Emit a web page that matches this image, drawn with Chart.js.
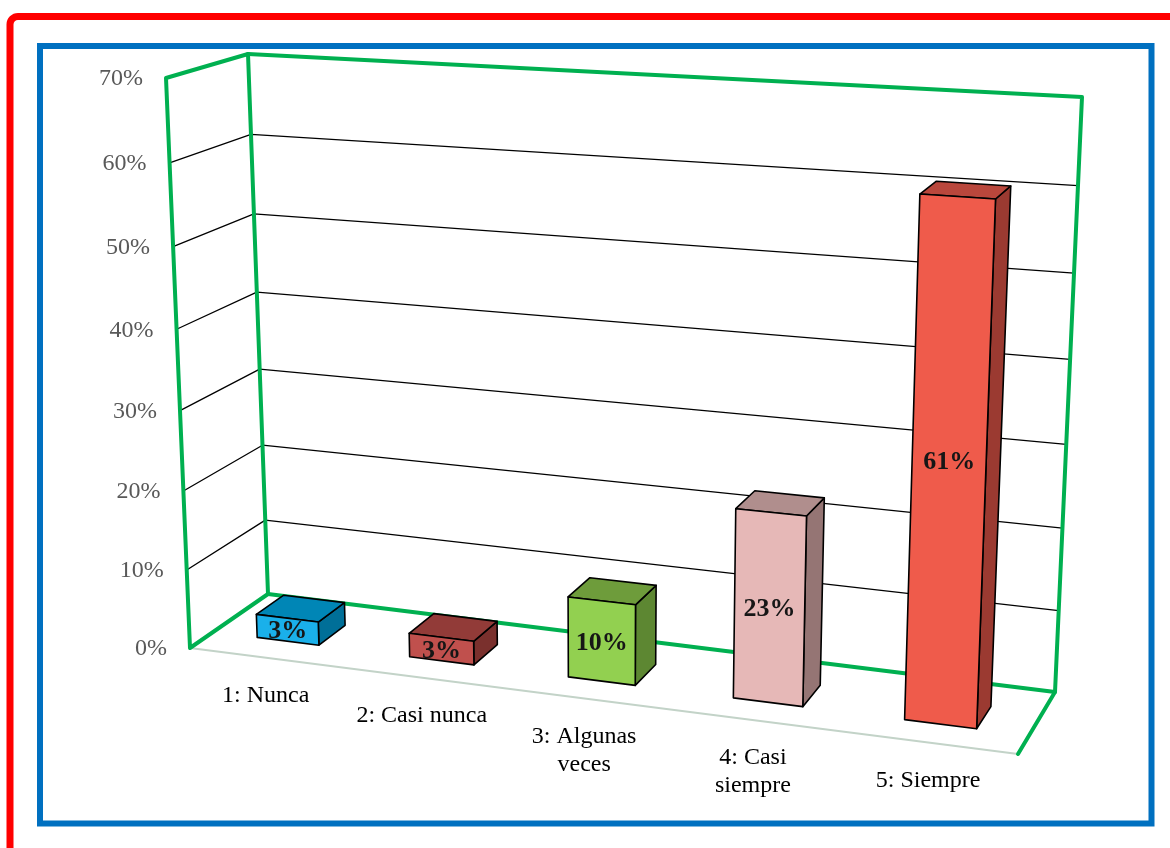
<!DOCTYPE html>
<html>
<head>
<meta charset="utf-8">
<script src="https://cdn.jsdelivr.net/npm/chart.js@4.4.0/dist/chart.umd.min.js"></script>
<style>
  html, body { margin: 0; padding: 0; background: #fff; }
</style>
</head>
<body>
<canvas id="grafico" width="1170" height="848"></canvas>
<script>
const categorias = [['1: Nunca'], ['2: Casi nunca'], ['3: Algunas', 'veces'], ['4: Casi', 'siempre'], ['5: Siempre']];
const porcentajes = [3, 3, 10, 23, 61];
const marcasEje = [0, 10, 20, 30, 40, 50, 60, 70];

const colorFrente = ['#1ab0ea', '#c0504d', '#92d050', '#e6b8b7', '#ef5b4b'];
const colorTapa = ['#0086b6', '#923b38', '#6e9c3b', '#b08e8d', '#b9473c'];
const colorLado = ['#006f98', '#7a302d', '#5d8732', '#957574', '#9b3a31'];

// esquinas de la caja 3D: suelo (0%) y techo (70%); fi = frente izq, td = fondo der
const caja = {
  suelo: { fi: [190, 648], fd: [1018, 754], ti: [268, 594], td: [1055, 692] },
  techo: { fi: [166, 78], fd: [1042, 130], ti: [248, 54], td: [1082, 97] }
};
const curvaT = 0.096;   // las categorías se abren hacia la derecha
const curvaH = 0.05;    // y los niveles altos quedan más separados
const fondoBarra = [0.3, 0.66];

function lerp(a, b, k) {
  return [a[0] + (b[0] - a[0]) * k, a[1] + (b[1] - a[1]) * k];
}

// t: 0..1 a lo ancho, d: 0 frente .. 1 fondo, h: 0..1 de altura
function proyectar(t, d, h) {
  const tw = t * (1 - curvaT) + curvaT * t * t;
  const hw = h * (1 - curvaH) + curvaH * h * h;
  const nivel = c => lerp(lerp(c.fi, c.fd, tw), lerp(c.ti, c.td, tw), d);
  return lerp(nivel(caja.suelo), nivel(caja.techo), hw);
}

function trazo(ctx, pts, color, ancho, cerrar) {
  ctx.beginPath();
  ctx.moveTo(pts[0][0], pts[0][1]);
  for (let i = 1; i < pts.length; i++) ctx.lineTo(pts[i][0], pts[i][1]);
  if (cerrar) ctx.closePath();
  ctx.strokeStyle = color;
  ctx.lineWidth = ancho;
  ctx.stroke();
}

function cara(ctx, pts, relleno) {
  ctx.beginPath();
  ctx.moveTo(pts[0][0], pts[0][1]);
  for (let i = 1; i < pts.length; i++) ctx.lineTo(pts[i][0], pts[i][1]);
  ctx.closePath();
  ctx.fillStyle = relleno;
  ctx.fill();
  ctx.strokeStyle = '#000';
  ctx.lineWidth = 1.6;
  ctx.stroke();
}

const perspectiva = {
  id: 'perspectiva',
  beforeDatasetsDraw() {
    return false;
  },
  afterDraw(chart) {
    const ctx = chart.ctx;
    const a = chart.chartArea;
    const ys = chart.scales.y;
    const ancho = a.right - a.left;
    const alto = a.bottom - a.top;
    const tN = x => (x - a.left) / ancho;
    const hN = v => (a.bottom - ys.getPixelForValue(v)) / alto;
    const P = proyectar;

    ctx.save();
    ctx.lineJoin = 'round';
    ctx.lineCap = 'round';

    // líneas de división en pared izquierda y fondo
    marcasEje.forEach(v => {
      if (v === 0 || v === ys.max) return;
      const h = hN(v);
      trazo(ctx, [P(0, 0, h), P(0, 1, h), P(1, 1, h)], '#000', 1.3);
    });

    // borde del suelo por delante
    trazo(ctx, [P(0, 0, 0), P(1, 0, 0)], '#c3d3c8', 2);

    // marco verde de las paredes
    const verde = '#00b050';
    trazo(ctx, [P(0, 0, 0), P(0, 0, 1), P(0, 1, 1), P(0, 1, 0)], verde, 4, true);
    trazo(ctx, [P(0, 1, 1), P(1, 1, 1), P(1, 1, 0), P(0, 1, 0)], verde, 4);
    trazo(ctx, [P(1, 1, 0), P(1, 0, 0)], verde, 4);

    // barras como prismas
    const [d0, d1] = fondoBarra;
    const meta = chart.getDatasetMeta(0);
    const valores = chart.data.datasets[0].data;
    meta.data.forEach((barra, i) => {
      const { x, y, width } = barra.getProps(['x', 'y', 'width'], true);
      const t0 = tN(x - width / 2);
      const t1 = tN(x + width / 2);
      const h = (a.bottom - y) / alto;
      const frente = [P(t0, d0, 0), P(t1, d0, 0), P(t1, d0, h), P(t0, d0, h)];
      cara(ctx, [P(t1, d0, 0), P(t1, d1, 0), P(t1, d1, h), P(t1, d0, h)], colorLado[i]);
      cara(ctx, [P(t0, d0, h), P(t1, d0, h), P(t1, d1, h), P(t0, d1, h)], colorTapa[i]);
      cara(ctx, frente, colorFrente[i]);

      const cx = frente.reduce((s, p) => s + p[0], 0) / 4;
      const cy = frente.reduce((s, p) => s + p[1], 0) / 4;
      ctx.fillStyle = '#161616';
      ctx.font = 'bold 26px "Liberation Serif"';
      ctx.textAlign = 'center';
      ctx.textBaseline = 'middle';
      ctx.fillText(valores[i] + '%', cx, cy + 2);

      // nombre de la categoría bajo el borde del suelo
      const base = P(tN(x), 0, 0);
      ctx.fillStyle = '#000';
      ctx.font = '24px "Liberation Serif"';
      chart.data.labels[i].forEach((linea, k) => {
        ctx.fillText(linea, base[0], base[1] + 38 + k * 28);
      });
    });

    // etiquetas del eje vertical
    ctx.fillStyle = '#595959';
    ctx.font = '24px "Liberation Serif"';
    ctx.textAlign = 'right';
    ctx.textBaseline = 'middle';
    marcasEje.forEach(v => {
      const p = P(0, 0, hN(v));
      ctx.fillText(v + '%', p[0] - 23, p[1] + 1);
    });

    // recuadros exteriores
    ctx.lineJoin = 'miter';
    ctx.beginPath();
    ctx.roundRect(10, 16.5, 1190, 860, 8);
    ctx.strokeStyle = '#ff0000';
    ctx.lineWidth = 7;
    ctx.stroke();
    ctx.beginPath();
    ctx.rect(40, 46, 1111.5, 777.5);
    ctx.strokeStyle = '#0070c0';
    ctx.lineWidth = 6;
    ctx.stroke();
    ctx.restore();
  }
};

new Chart(document.getElementById('grafico'), {
  type: 'bar',
  data: {
    labels: categorias,
    datasets: [{
      data: porcentajes,
      backgroundColor: colorFrente,
      categoryPercentage: 1,
      barPercentage: 0.41
    }]
  },
  options: {
    responsive: false,
    animation: false,
    devicePixelRatio: 1,
    layout: { padding: 0 },
    plugins: {
      legend: { display: false },
      tooltip: { enabled: false }
    },
    scales: {
      x: { display: false },
      y: { display: false, min: 0, max: 70, ticks: { stepSize: 10 } }
    }
  },
  plugins: [perspectiva]
});
</script>
</body>
</html>
